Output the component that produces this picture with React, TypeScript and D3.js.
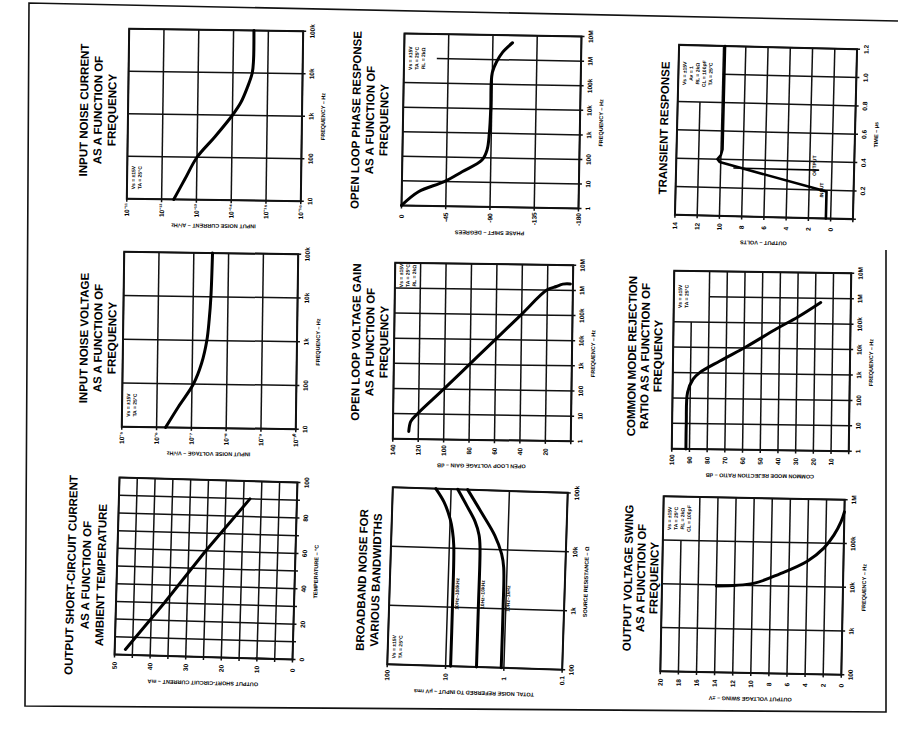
import React from 'react';
import * as d3 from 'd3';

// ---------------- DATA ----------------
// 1. Input noise current vs frequency
const noiseCurrentFreq = [10, 30, 100, 300, 1000, 2000, 4600, 10000, 20000, 100000];
const noiseCurrentAmps = [4.5e-13, 2.2e-13, 1.0e-13, 3.2e-14, 1.0e-14, 5.8e-15, 3.8e-15, 2.8e-15, 2.6e-15, 2.6e-15];
const noiseCurrentTicks = [1e-11, 1e-12, 1e-13, 1e-14, 1e-15, 1e-16];
const noiseCurrentLabels = ['10⁻¹¹', '10⁻¹²', '10⁻¹³', '10⁻¹⁴', '10⁻¹⁵', '10⁻¹⁶'];
const freq4Ticks = [10, 100, 1000, 10000, 100000];
const freq4Labels = ['10', '100', '1k', '10k', '100k'];

// 2. Open loop phase response
const phaseFreq = [1, 3.7, 10, 26, 80, 210, 1000, 10000, 100000, 300000, 800000, 2000000, 5000000];
const phaseDeg = [0, -17, -43, -61, -81, -86, -88, -89, -89, -90, -94, -100, -110];
const phaseTicks = [0, -45, -90, -135, -180];
const phaseLabels = ['0', '-45', '-90', '-135', '-180'];
const freq7Ticks = [1, 10, 100, 1000, 10000, 100000, 1000000, 10000000];
const freq7Labels = ['1', '10', '100', '1k', '10k', '100k', '1M', '10M'];

// 3. Transient response
const outputTime = [0, 0.19, 0.38, 0.4, 0.43, 0.47, 1.2];
const outputVolts = [0.43, 0.43, 10.1, 10.3, 10.0, 9.87, 9.87];
const inputTime = [0.34, 0.34];
const inputVolts = [8.8, 1.2];
const voltTicks = [14, 12, 10, 8, 6, 4, 2, 0, -2];
const voltLabelVals = [14, 12, 10, 8, 6, 4, 2, 0];
const voltLabels = ['14', '12', '10', '8', '6', '4', '2', '0'];
const timeTicks = [0, 0.2, 0.4, 0.6, 0.8, 1.0, 1.2];
const timeLabelVals = [0.2, 0.4, 0.6, 0.8, 1.0, 1.2];
const timeLabels = ['0.2', '0.4', '0.6', '0.8', '1.0', '1.2'];

// 4. Input noise voltage vs frequency
const noiseVoltFreq = [10, 30, 100, 300, 1000, 3000, 10000, 100000];
const noiseVoltVal = [5.5e-7, 2.4e-7, 9.1e-8, 5.4e-8, 3.9e-8, 3.4e-8, 3.1e-8, 2.9e-8];
const noiseVoltTicks = [1e-5, 1e-6, 1e-7, 1e-8, 1e-9, 1e-10];
const noiseVoltLabels = ['10⁻⁵', '10⁻⁶', '10⁻⁷', '10⁻⁸', '10⁻⁹', '10⁻¹⁰'];

// 5. Open loop voltage gain
const gainFreq = [2, 5, 10, 100, 1000, 10000, 100000, 1000000, 1400000, 1750000, 1800000];
const gainDb = [127.5, 126, 121, 100.5, 80.5, 60.5, 40.5, 20.5, 13, 8, 2];
const gainTicks = [140, 120, 100, 80, 60, 40, 20, 0];
const gainLabelVals = [140, 120, 100, 80, 60, 40, 20];
const gainLabels = ['140', '120', '100', '80', '60', '40', '20'];

// 6. Common mode rejection ratio
const cmrrFreq = [1, 10, 170, 560, 1000, 3000, 11500, 61000, 174000, 680000];
const cmrrDb = [92, 92, 91.5, 88.5, 85, 73.5, 58.5, 41.5, 30, 17];
const cmrrTicks = [100, 90, 80, 70, 60, 50, 40, 30, 20, 10, 0];
const cmrrLabelVals = [100, 90, 80, 70, 60, 50, 40, 30, 20, 10];
const cmrrLabels = ['100', '90', '80', '70', '60', '50', '40', '30', '20', '10'];

// 7. Output short-circuit current vs ambient temperature
const scTemp = [3, 30, 60, 90];
const scCurrent = [47, 36.4, 25.2, 13.2];
const scCurrentTicks = [50, 45, 40, 35, 30, 25, 20, 15, 10, 5, 0];
const scCurrentLabelVals = [50, 40, 30, 20, 10, 0];
const scCurrentLabels = ['50', '40', '30', '20', '10', '0'];
const tempTicks = [0, 10, 20, 30, 40, 50, 60, 70, 80, 90, 100];
const tempLabelVals = [0, 20, 40, 60, 80, 100];
const tempLabels = ['0', '20', '40', '60', '80', '100'];

// 8. Broadband noise for various bandwidths
const bb100kRs = [100, 1000, 11000, 19600, 31000, 59600, 100000];
const bb100kNoise = [8.2, 8.2, 8.4, 9.0, 10, 13, 18.3];
const bb10kRs = [100, 1000, 11000, 17300, 29000, 52000, 100000];
const bb10kNoise = [2.95, 2.95, 2.98, 3.14, 3.73, 5.2, 7.7];
const bb1kRs = [100, 1000, 5000, 8500, 17300, 40000, 100000];
const bb1kNoise = [1.11, 1.11, 1.14, 1.26, 1.69, 2.86, 5.2];
const bbNoiseTicks = [100, 10, 1, 0.1];
const bbNoiseLabels = ['100', '10', '1', '0.1'];
const rsTicks = [100, 1000, 10000, 100000];
const rsLabels = ['100', '1k', '10k', '100k'];
const bbCurveNames = ['10Hz–100kHz', '10Hz–10kHz', '10Hz–1kHz'];

// 9. Output voltage swing vs frequency
const swingFreq = [9400, 11200, 19000, 38000, 77000, 156000, 316000, 530000];
const swingVolts = [14, 9.9, 7.0, 4.0, 2.2, 1.1, 0.35, 0.0];
const swingTicks = [20, 18, 16, 14, 12, 10, 8, 6, 4, 2, 0];
const swingLabels = ['20', '18', '16', '14', '12', '10', '8', '6', '4', '2', '0'];
const freq5Ticks = [100, 1000, 10000, 100000, 1000000];
const freq5Labels = ['100', '1k', '10k', '100k', '1M'];

// ---------------- LAYOUT / RENDER ----------------
const FONT = "'Liberation Sans', Arial, Helvetica, sans-serif";

type Series = { v: number[]; f: number[]; width?: number; linear?: boolean };
type Note = { text: string; v: number; f: number };
type Cfg = {
  x: number; y: number; w: number; h: number; angle: number;
  vLog: boolean; vDomain: [number, number]; vGrid: number[]; vLabVals: number[]; vLabs: string[];
  fLog: boolean; fDomain: [number, number]; fGrid: number[]; fLabVals: number[]; fLabs: string[];
  series: Series[];
  legend?: { lines: string[]; fx: number; fy: number; top: boolean };
  vTitle: string; fTitle: string;
  notes?: Note[];
  title: { lines: string[]; xs: number[]; cy: number };
};

const charts: Cfg[] = [
  {
    x: 128, y: 30, w: 174, h: 170, angle: 0.8,
    vLog: true, vDomain: [1e-11, 1e-16], vGrid: noiseCurrentTicks, vLabVals: noiseCurrentTicks, vLabs: noiseCurrentLabels,
    fLog: true, fDomain: [10, 100000], fGrid: freq4Ticks, fLabVals: freq4Ticks, fLabs: freq4Labels,
    series: [{ v: noiseCurrentAmps, f: noiseCurrentFreq }],
    legend: { lines: ['Vs = ±15V', 'TA = 25°C'], fx: 0.2, fy: 0.25, top: false },
    vTitle: 'INPUT NOISE CURRENT – A/√Hz', fTitle: 'FREQUENCY – Hz',
    title: { lines: ['INPUT NOISE CURRENT', 'AS A FUNCTION OF', 'FREQUENCY'], xs: [84, 98, 112], cy: 110 },
  },
  {
    x: 403, y: 35, w: 177, h: 172, angle: 1.0,
    vLog: false, vDomain: [0, -180], vGrid: phaseTicks, vLabVals: phaseTicks, vLabs: phaseLabels,
    fLog: true, fDomain: [1, 10000000], fGrid: freq7Ticks, fLabVals: freq7Ticks, fLabs: freq7Labels,
    series: [{ v: phaseDeg, f: phaseFreq }],
    legend: { lines: ['Vs = ±15V', 'TA = 25°C', 'RL = 2kΩ'], fx: 0.185, fy: 2 / 7, top: true },
    vTitle: 'PHASE SHIFT – DEGREES', fTitle: 'FREQUENCY – Hz',
    title: { lines: ['OPEN LOOP PHASE RESPONSE', 'AS A FUNCTION OF', 'FREQUENCY'], xs: [356, 370, 384], cy: 120 },
  },
  {
    x: 677, y: 47, w: 178, h: 170, angle: 1.4,
    vLog: false, vDomain: [14, -2], vGrid: voltTicks, vLabVals: voltLabelVals, vLabs: voltLabels,
    fLog: false, fDomain: [0, 1.2], fGrid: timeTicks, fLabVals: timeLabelVals, fLabs: timeLabels,
    series: [
      { v: outputVolts, f: outputTime, width: 2.6, linear: true },
      { v: inputVolts, f: inputTime, width: 1.6, linear: true },
    ],
    legend: { lines: ['Vs = ±15V', 'Av = 1', 'RL = 2kΩ', 'CL = 100pF', 'TA = 25°C'], fx: 0.25, fy: 1 / 3, top: true },
    vTitle: 'OUTPUT – VOLTS', fTitle: 'TIME – μs',
    notes: [{ text: 'OUTPUT', v: 1.6, f: 0.37 }, { text: 'INPUT', v: 0.9, f: 0.2 }],
    title: { lines: ['TRANSIENT RESPONSE'], xs: [664], cy: 128 },
  },
  {
    x: 123, y: 253, w: 174, h: 175, angle: 0.8,
    vLog: true, vDomain: [1e-5, 1e-10], vGrid: noiseVoltTicks, vLabVals: noiseVoltTicks, vLabs: noiseVoltLabels,
    fLog: true, fDomain: [10, 100000], fGrid: freq4Ticks, fLabVals: freq4Ticks, fLabs: freq4Labels,
    series: [{ v: noiseVoltVal, f: noiseVoltFreq }],
    legend: { lines: ['Vs = ±15V', 'TA = 25°C'], fx: 0.2, fy: 0.25, top: false },
    vTitle: 'INPUT NOISE VOLTAGE – V/√Hz', fTitle: 'FREQUENCY – Hz',
    title: { lines: ['INPUT NOISE VOLTAGE', 'AS A FUNCTION OF', 'FREQUENCY'], xs: [84, 98, 112], cy: 338 },
  },
  {
    x: 394, y: 264, w: 178, h: 176, angle: 0.8,
    vLog: false, vDomain: [140, 0], vGrid: gainTicks, vLabVals: gainLabelVals, vLabs: gainLabels,
    fLog: true, fDomain: [1, 10000000], fGrid: freq7Ticks, fLabVals: freq7Ticks, fLabs: freq7Labels,
    series: [{ v: gainDb, f: gainFreq }],
    legend: { lines: ['Vs = ±15V', 'TA = 25°C', 'RL = 2kΩ'], fx: 1 / 7, fy: 1 / 7, top: true },
    vTitle: 'OPEN LOOP VOLTAGE GAIN – dB', fTitle: 'FREQUENCY – Hz',
    title: { lines: ['OPEN LOOP VOLTAGE GAIN', 'AS A FUNCTION OF', 'FREQUENCY'], xs: [356, 370, 384], cy: 342 },
  },
  {
    x: 673, y: 272, w: 177, h: 178, angle: 0.8,
    vLog: false, vDomain: [100, 0], vGrid: cmrrTicks, vLabVals: cmrrLabelVals, vLabs: cmrrLabels,
    fLog: true, fDomain: [1, 10000000], fGrid: freq7Ticks, fLabVals: freq7Ticks, fLabs: freq7Labels,
    series: [{ v: cmrrDb, f: cmrrFreq }],
    legend: { lines: ['Vs = ±15V', 'TA = 25°C'], fx: 0.2, fy: 2 / 7, top: true },
    vTitle: 'COMMON MODE REJECTION RATIO – dB', fTitle: 'FREQUENCY – Hz',
    title: { lines: ['COMMON MODE REJECTION', 'RATIO AS A FUNCTION OF', 'FREQUENCY'], xs: [632, 645, 658], cy: 356 },
  },
  {
    x: 117, y: 480, w: 178, h: 177, angle: 1.6,
    vLog: false, vDomain: [50, 0], vGrid: scCurrentTicks, vLabVals: scCurrentLabelVals, vLabs: scCurrentLabels,
    fLog: false, fDomain: [0, 100], fGrid: tempTicks, fLabVals: tempLabelVals, fLabs: tempLabels,
    series: [{ v: scCurrent, f: scTemp, linear: true }],
    vTitle: 'OUTPUT SHORT-CIRCUIT CURRENT – mA', fTitle: 'TEMPERATURE – °C',
    title: { lines: ['OUTPUT SHORT-CIRCUIT CURRENT', 'AS A FUNCTION OF', 'AMBIENT TEMPERATURE'], xs: [71, 86, 101], cy: 575 },
  },
  {
    x: 390, y: 490, w: 175, h: 177, angle: 1.8,
    vLog: true, vDomain: [100, 0.1], vGrid: bbNoiseTicks, vLabVals: bbNoiseTicks, vLabs: bbNoiseLabels,
    fLog: true, fDomain: [100, 100000], fGrid: rsTicks, fLabVals: rsTicks, fLabs: rsLabels,
    series: [
      { v: bb100kNoise, f: bb100kRs },
      { v: bb10kNoise, f: bb10kRs },
      { v: bb1kNoise, f: bb1kRs },
    ],
    legend: { lines: ['Vs = ±15V', 'TA = 25°C'], fx: 0.15, fy: 0.2, top: false },
    vTitle: 'TOTAL NOISE REFERRED TO INPUT – μV rms', fTitle: 'SOURCE RESISTANCE – Ω',
    notes: [
      { text: bbCurveNames[0], v: 7.0, f: 1700 },
      { text: bbCurveNames[1], v: 2.55, f: 1700 },
      { text: bbCurveNames[2], v: 0.93, f: 1500 },
    ],
    title: { lines: ['BROADBAND NOISE FOR', 'VARIOUS BANDWIDTHS'], xs: [362, 376], cy: 580 },
  },
  {
    x: 662, y: 498, w: 181, h: 175, angle: 1.1,
    vLog: false, vDomain: [20, 0], vGrid: swingTicks, vLabVals: swingTicks, vLabs: swingLabels,
    fLog: true, fDomain: [100, 1000000], fGrid: freq5Ticks, fLabVals: freq5Ticks, fLabs: freq5Labels,
    series: [{ v: swingVolts, f: swingFreq }],
    legend: { lines: ['Vs = ±15V', 'TA = 25°C', 'RL = 2kΩ', 'CL = 100pF'], fx: 0.2, fy: 0.25, top: true },
    vTitle: 'OUTPUT VOLTAGE SWING – ±V', fTitle: 'FREQUENCY – Hz',
    title: { lines: ['OUTPUT VOLTAGE SWING', 'AS A FUNCTION OF', 'FREQUENCY'], xs: [628, 641, 654], cy: 578 },
  },
];

function Chart({ c }: { c: Cfg }) {
  const { w, h } = c;
  const xS: any = (c.vLog ? d3.scaleLog() : d3.scaleLinear()).domain(c.vDomain).range([0, w]);
  const yS: any = (c.fLog ? d3.scaleLog() : d3.scaleLinear()).domain(c.fDomain).range([h, 0]);
  const top = !!(c.legend && c.legend.top);
  const lx = c.legend ? c.legend.fx * w : 0;
  const ly = c.legend ? c.legend.fy * h : 0;
  const mk = (lin?: boolean) =>
    d3.line<[number, number]>()
      .x((d) => xS(d[0]))
      .y((d) => yS(d[1]))
      .curve(lin ? d3.curveLinear : d3.curveCatmullRom.alpha(0.5));
  const legendY0 = c.legend ? (top ? 0 : h - ly) : 0;
  return (
    <g transform={`translate(${c.x + w / 2},${c.y + h / 2}) rotate(${c.angle}) translate(${-w / 2},${-h / 2})`}>
      {c.vGrid.map((v, i) => {
        const X = xS(v);
        const y1 = top && X > 1 && X < lx - 1 ? ly : 0;
        return <line key={'gv' + i} x1={X} x2={X} y1={y1} y2={h + 3} stroke="#111" strokeWidth={1.5} />;
      })}
      {c.fGrid.map((f, i) => {
        const Y = yS(f);
        const x1 = top && Y > 1 && Y < ly - 1 ? lx : 0;
        return <line key={'gh' + i} x1={x1} x2={w + 3} y1={Y} y2={Y} stroke="#111" strokeWidth={1.5} />;
      })}
      <rect x={0} y={0} width={w} height={h} fill="none" stroke="#111" strokeWidth={2} />
      {c.series.map((s, i) => (
        <path
          key={'s' + i}
          d={mk(s.linear)(s.v.map((v, j) => [v, s.f[j]] as [number, number])) || ''}
          fill="none"
          stroke="#000"
          strokeWidth={s.width ?? 3}
          strokeLinejoin="round"
          strokeLinecap="round"
        />
      ))}
      {c.legend &&
        c.legend.lines.map((t, i) => (
          <text
            key={'lg' + i}
            transform={`translate(${6 + i * 6.5},${legendY0 + ly / 2}) rotate(-90)`}
            textAnchor="middle"
            dominantBaseline="central"
            fontSize={5}
            fontWeight="bold"
            fontFamily={FONT}
          >
            {t}
          </text>
        ))}
      {(c.notes || []).map((n, i) => (
        <text
          key={'nt' + i}
          transform={`translate(${xS(n.v)},${yS(n.f)}) rotate(-90)`}
          textAnchor="middle"
          dominantBaseline="central"
          fontSize={5}
          fontWeight="bold"
          fontFamily={FONT}
        >
          {n.text}
        </text>
      ))}
      {c.vLabVals.map((v, i) => (
        <text
          key={'lv' + i}
          transform={`translate(${xS(v)},${h + 11}) rotate(-90)`}
          textAnchor="middle"
          dominantBaseline="central"
          fontSize={6.5}
          fontWeight="bold"
          fontFamily={FONT}
        >
          {c.vLabs[i]}
        </text>
      ))}
      {c.fLabVals.map((f, i) => (
        <text
          key={'lf' + i}
          transform={`translate(${w + 9},${yS(f)}) rotate(-90)`}
          textAnchor="middle"
          dominantBaseline="central"
          fontSize={6.5}
          fontWeight="bold"
          fontFamily={FONT}
        >
          {c.fLabs[i]}
        </text>
      ))}
      <text
        transform={`translate(${w / 2},${h + 26}) rotate(180)`}
        textAnchor="middle"
        dominantBaseline="central"
        fontSize={5.5}
        fontWeight="bold"
        fontFamily={FONT}
      >
        {c.vTitle}
      </text>
      <text
        transform={`translate(${w + 21},${h / 2}) rotate(-90)`}
        textAnchor="middle"
        dominantBaseline="central"
        fontSize={5.5}
        fontWeight="bold"
        fontFamily={FONT}
      >
        {c.fTitle}
      </text>
    </g>
  );
}

function Title({ c }: { c: Cfg }) {
  return (
    <g>
      {c.title.lines.map((t, i) => (
        <text
          key={i}
          transform={`translate(${c.title.xs[i]},${c.title.cy}) rotate(${-90 + c.angle})`}
          textAnchor="middle"
          dominantBaseline="central"
          fontSize={11.5}
          fontWeight="bold"
          fontFamily={FONT}
          fill="#000"
        >
          {t}
        </text>
      ))}
    </g>
  );
}

export default function App() {
  return (
    <svg
      width={898}
      height={731}
      viewBox="0 0 898 731"
      style={{ position: 'absolute', left: 0, top: 0, background: '#fff' }}
    >
      <rect x={0} y={0} width={898} height={731} fill="#fff" />
      <polyline
        points="898,21 29,3 25,706 886,712 886,250"
        fill="none"
        stroke="#111"
        strokeWidth={1.6}
      />
      {charts.map((c, i) => (
        <Chart key={i} c={c} />
      ))}
      {charts.map((c, i) => (
        <Title key={'t' + i} c={c} />
      ))}
    </svg>
  );
}
